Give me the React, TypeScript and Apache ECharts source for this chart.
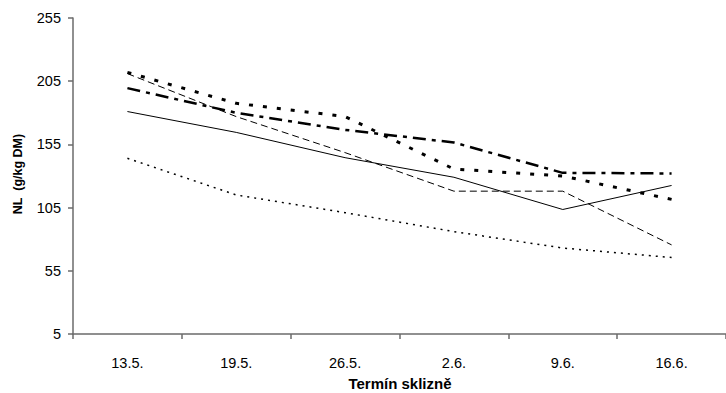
import React, { useEffect, useRef } from "react";
import * as echarts from "echarts";

// Harvest dates (x axis)
const harvestDates = ["13.5.", "19.5.", "26.5.", "2.6.", "9.6.", "16.6."];

// NL content (g/kg DM) for the five series
const seriesSolid = [181, 164.5, 144.5, 129, 103.5, 122.5];
const seriesDashed = [211, 177, 148.5, 118, 118, 75.5];
const seriesDashDot = [199.5, 180, 166.5, 156.5, 132.5, 132];
const seriesSquareDot = [212, 187.5, 177, 135.5, 130, 111.5];
const seriesFineDot = [144, 115, 101, 86, 73, 65.5];

const yTicks = { min: 5, max: 255, interval: 50 };

const FONT = "Liberation Sans, Arial, sans-serif";

export default function App() {
  const ref = useRef<HTMLDivElement>(null);

  useEffect(() => {
    if (!ref.current) return;
    const chart = echarts.init(ref.current, undefined, { renderer: "svg" });

    const mk = (name: string, data: number[], width: number, type: any) => ({
      name,
      type: "line",
      data,
      symbol: "none",
      lineStyle: { color: "#000", width, type, cap: "butt" },
      z: 3,
    });

    chart.setOption({
      animation: false,
      backgroundColor: "#fff",
      grid: { left: 73, right: 0, top: 18, bottom: 59, containLabel: false },
      xAxis: {
        type: "category",
        data: harvestDates,
        boundaryGap: true,
        axisLine: { lineStyle: { color: "#6b6b6b", width: 1.5 } },
        axisTick: { show: true, length: 5, lineStyle: { color: "#6b6b6b", width: 1.5 } },
        axisLabel: { color: "#000", fontFamily: FONT, fontSize: 14.5, margin: 21 },
        splitLine: { show: false },
      },
      yAxis: {
        type: "value",
        min: yTicks.min,
        max: yTicks.max,
        interval: yTicks.interval,
        axisLine: { show: true, lineStyle: { color: "#6b6b6b", width: 1.5 } },
        axisTick: { show: true, length: 5, lineStyle: { color: "#6b6b6b", width: 1.5 } },
        axisLabel: { color: "#000", fontFamily: FONT, fontSize: 14.5, margin: 12 },
        splitLine: { show: false },
      },
      graphic: [
        {
          type: "text",
          x: 18,
          y: 174,
          rotation: Math.PI / 2,
          style: {
            text: "NL  (g/kg DM)",
            fontFamily: FONT,
            fontSize: 12.5,
            fontWeight: "bold",
            fill: "#000",
            align: "center",
            verticalAlign: "middle",
          },
        },
        {
          type: "text",
          x: 400,
          y: 383,
          style: {
            text: "Termín sklizně",
            fontFamily: FONT,
            fontSize: 15,
            fontWeight: "bold",
            fill: "#000",
            align: "center",
            verticalAlign: "middle",
          },
        },
      ],
      series: [
        mk("solid", seriesSolid, 1, "solid"),
        mk("dashed", seriesDashed, 1, [7, 4]),
        mk("dashDot", seriesDashDot, 2.5, [13, 6, 4, 6]),
        mk("squareDot", seriesSquareDot, 3, [4, 10]),
        mk("fineDot", seriesFineDot, 1.5, [2, 5]),
      ],
    });

    return () => chart.dispose();
  }, []);

  return (
    <div
      ref={ref}
      style={{ position: "fixed", left: 0, top: 0, width: 726, height: 393, background: "#fff" }}
    />
  );
}
